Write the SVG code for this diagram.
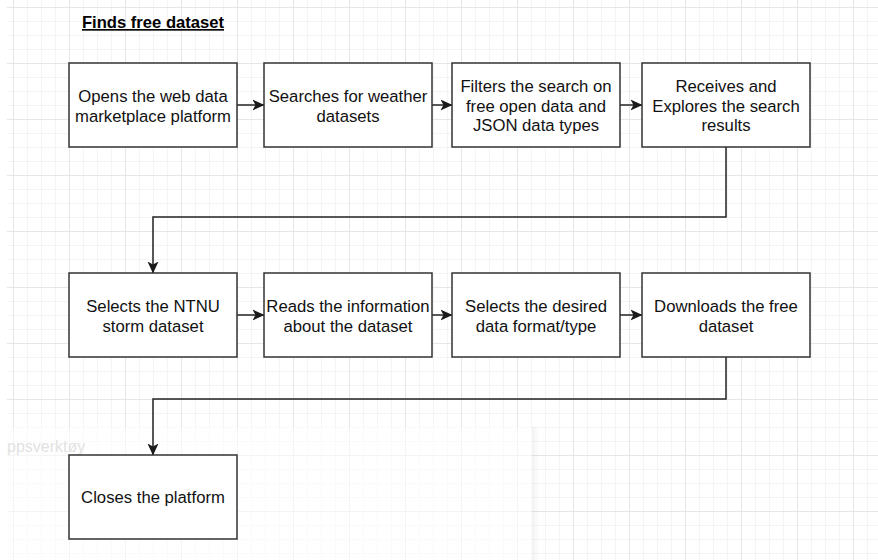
<svg xmlns="http://www.w3.org/2000/svg" width="878" height="560" viewBox="0 0 878 560">
  <defs>
    <!-- editor canvas grid: minor every 14px, major every 56px -->
    <pattern id="grid" patternUnits="userSpaceOnUse" x="13" y="7" width="56" height="56">
      <path d="M14.5,0V56M28.5,0V56M42.5,0V56M0,14.5H56M0,28.5H56M0,42.5H56" fill="none" stroke="#f4f4f4" stroke-width="1"/>
      <path d="M0.5,0V56M0,0.5H56" fill="none" stroke="#e6e6e6" stroke-width="1"/>
    </pattern>
    <linearGradient id="panelShade" x1="0" y1="0" x2="1" y2="0">
      <stop offset="0" stop-color="#000" stop-opacity="0.05"/>
      <stop offset="1" stop-color="#000" stop-opacity="0"/>
    </linearGradient>
    <marker id="arrow" viewBox="0 0 12 12" markerWidth="12" markerHeight="12" refX="11.5" refY="6" orient="auto" markerUnits="userSpaceOnUse">
      <path d="M0,0.5 L12,6 L0,11.5 L3,6 Z" fill="#1a1a1a"/>
    </marker>
  </defs>
  <style>
    .box { fill: #ffffff; stroke: #333333; stroke-width: 1.5; }
    .label { font-family: "Liberation Sans", Arial, Helvetica, sans-serif; font-size: 16.7px; fill: #111111; text-anchor: middle; }
    .title { font-family: "Liberation Sans", Arial, Helvetica, sans-serif; font-size: 16.6px; font-weight: bold; text-decoration: underline; fill: #000000; text-anchor: middle; }
    .edge { fill: none; stroke: #222222; stroke-width: 1.5; marker-end: url(#arrow); }
    .ghost { font-family: "Liberation Sans", Arial, sans-serif; font-size: 16px; fill: #e2e2e2; }
  </style>

  <!-- canvas -->
  <rect x="0" y="0" width="878" height="560" fill="#ffffff"/>
  <rect x="7" y="0" width="871" height="560" fill="url(#grid)"/>

  <!-- overlapping panel in the lower-left corner -->
  <g id="panel">
    <rect x="532" y="427" width="8" height="133" fill="url(#panelShade)"/>
    <rect x="0" y="427" width="532" height="133" fill="#ffffff" fill-opacity="0.55"/>
    <text class="ghost" x="7" y="452">ppsverktøy</text>
  </g>

  <text id="title" class="title" x="153" y="28">Finds free dataset</text>

  <!-- connectors -->
  <g id="connectors">
    <path class="edge" d="M237,105H264"/>
    <path class="edge" d="M432,105H452"/>
    <path class="edge" d="M620,105H642"/>
    <path class="edge" d="M726,147V217H153V273"/>
    <path class="edge" d="M237,315H264"/>
    <path class="edge" d="M432,315H452"/>
    <path class="edge" d="M620,315H642"/>
    <path class="edge" d="M726,357V399H153V455"/>
  </g>

  <!-- row 1 -->
  <g id="open-platform">
    <rect class="box" x="69" y="63" width="168" height="84"/>
    <text class="label" x="153" y="101.5">Opens the web data</text>
    <text class="label" x="153" y="121.5">marketplace platform</text>
  </g>
  <g id="search-weather">
    <rect class="box" x="264" y="63" width="168" height="84"/>
    <text class="label" x="348" y="101.5">Searches for weather</text>
    <text class="label" x="348" y="121.5">datasets</text>
  </g>
  <g id="filter-search">
    <rect class="box" x="452" y="63" width="168" height="84"/>
    <text class="label" x="536" y="92">Filters the search on</text>
    <text class="label" x="536" y="111.5">free open data and</text>
    <text class="label" x="536" y="131">JSON data types</text>
  </g>
  <g id="explore-results">
    <rect class="box" x="642" y="63" width="168" height="84"/>
    <text class="label" x="726" y="92">Receives and</text>
    <text class="label" x="726" y="111.5">Explores the search</text>
    <text class="label" x="726" y="131">results</text>
  </g>

  <!-- row 2 -->
  <g id="select-ntnu">
    <rect class="box" x="69" y="273" width="168" height="84"/>
    <text class="label" x="153" y="311.5">Selects the NTNU</text>
    <text class="label" x="153" y="331.5">storm dataset</text>
  </g>
  <g id="read-info">
    <rect class="box" x="264" y="273" width="168" height="84"/>
    <text class="label" x="348" y="311.5">Reads the information</text>
    <text class="label" x="348" y="331.5">about the dataset</text>
  </g>
  <g id="select-format">
    <rect class="box" x="452" y="273" width="168" height="84"/>
    <text class="label" x="536" y="311.5">Selects the desired</text>
    <text class="label" x="536" y="331.5">data format/type</text>
  </g>
  <g id="download">
    <rect class="box" x="642" y="273" width="168" height="84"/>
    <text class="label" x="726" y="311.5">Downloads the free</text>
    <text class="label" x="726" y="331.5">dataset</text>
  </g>

  <!-- row 3 -->
  <g id="close-platform">
    <rect class="box" x="69" y="455" width="168" height="84"/>
    <text class="label" x="153" y="503">Closes the platform</text>
  </g>
</svg>
